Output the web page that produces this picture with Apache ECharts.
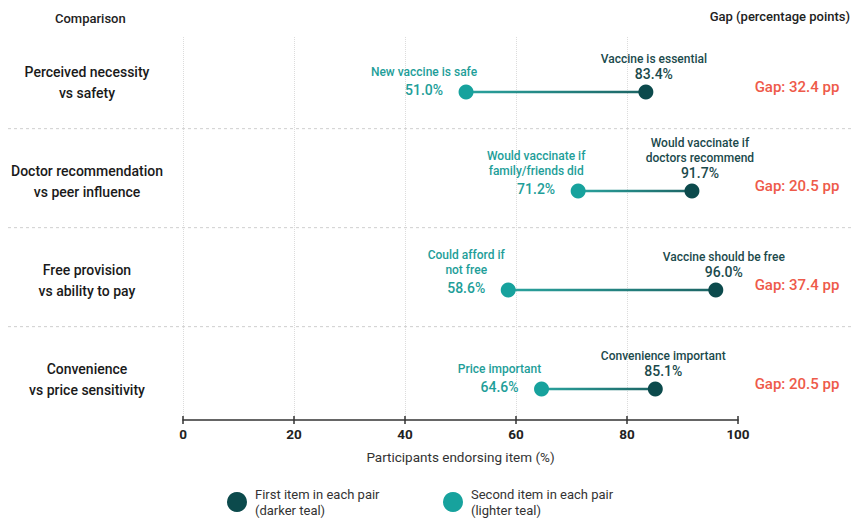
<!DOCTYPE html>
<html><head><meta charset="utf-8">
<script src="https://cdn.jsdelivr.net/npm/echarts@6/dist/echarts.min.js"></script>
<style>html,body{margin:0;padding:0;background:#fff}#c{width:858px;height:518px}</style>
</head><body><div id="c"></div>
<script>
const comparisons = ['Perceived necessity\nvs safety', 'Doctor recommendation\nvs peer influence', 'Free provision\nvs ability to pay', 'Convenience\nvs price sensitivity'];
const firstItems = ['Vaccine is essential', 'Would vaccinate if\ndoctors recommend', 'Vaccine should be free', 'Convenience important'];
const secondItems = ['New vaccine is safe', 'Would vaccinate if\nfamily/friends did', 'Could afford if\nnot free', 'Price important'];
const firstValues = [83.4, 91.7, 96.0, 85.1];
const secondValues = [51.0, 71.2, 58.6, 64.6];
const xTicks = [0, 20, 40, 60, 80, 100];

const FONT = 'Roboto, "Noto Sans", sans-serif';
const DARK = '#0c4a4c';
const LIGHT = '#17a29d';
const DARK_TXT = '#1b4a4c';
const LIGHT_TXT = '#1e9e99';
const GAP = '#ee5a4a';

const chart = echarts.init(document.getElementById('c'), null, {renderer: 'svg'});

const rows = comparisons.map((c, i) => [firstValues[i], secondValues[i], i]);

function renderRow(params, api) {
  const i = api.value(2);
  const p1 = api.coord([api.value(0), i]);
  const p2 = api.coord([api.value(1), i]);
  const sep = api.coord([0, i + 0.37]);
  const children = [];
  children.push({
    type: 'line', z2: 1,
    shape: {x1: p2[0], y1: p2[1], x2: p1[0], y2: p1[1]},
    style: {lineWidth: 2.5, stroke: new echarts.graphic.LinearGradient(p2[0], 0, p1[0], 0, [
      {offset: 0, color: '#2aa39e'}, {offset: 1, color: '#1d6464'}], true)}
  });
  children.push({type: 'text', style: {text: secondItems[i], x: p2[0] - 42, y: p2[1] - 13,
    align: 'center', verticalAlign: 'bottom', fill: LIGHT_TXT, fontSize: 12, fontWeight: 500, lineHeight: 15, fontFamily: FONT}});
  children.push({type: 'text', style: {text: api.value(1).toFixed(1) + '%', x: p2[0] - 42, y: p2[1] - 2,
    align: 'center', verticalAlign: 'middle', fill: LIGHT_TXT, fontSize: 14, fontWeight: 500, fontFamily: FONT}});
  children.push({type: 'text', style: {text: firstItems[i], x: p1[0] + 8, y: p1[1] - 26,
    align: 'center', verticalAlign: 'bottom', fill: DARK_TXT, fontSize: 12, fontWeight: 500, lineHeight: 15, fontFamily: FONT}});
  children.push({type: 'text', style: {text: api.value(0).toFixed(1) + '%', x: p1[0] + 8, y: p1[1] - 18,
    align: 'center', verticalAlign: 'middle', fill: DARK_TXT, fontSize: 14, fontWeight: 500, fontFamily: FONT}});
  children.push({type: 'text', style: {text: 'Gap: ' + (api.value(0) - api.value(1)).toFixed(1) + ' pp', x: 797, y: p1[1] - 5,
    align: 'center', verticalAlign: 'middle', fill: GAP, fontSize: 15, fontWeight: 500, fontFamily: FONT}});
  children.push({type: 'text', style: {text: comparisons[i], x: 87, y: p1[1] - 10,
    align: 'center', verticalAlign: 'middle', fill: '#1a1a1a', fontSize: 14, fontWeight: 500, lineHeight: 21, fontFamily: FONT}});
  if (i < comparisons.length - 1) {
    children.push({type: 'line', shape: {x1: 8, y1: sep[1], x2: 852, y2: sep[1]},
      style: {stroke: '#cfcfcf', lineWidth: 1, lineDash: [3, 3]}});
  }
  return {type: 'group', children};
}

const option = {
  backgroundColor: '#fff',
  textStyle: {fontFamily: FONT},
  grid: {left: 183, right: 120, top: 37, bottom: 98},
  xAxis: [{
    type: 'value', min: xTicks[0], max: xTicks[xTicks.length - 1], interval: 20, position: 'bottom',
    axisLine: {show: true, onZero: false, lineStyle: {color: '#333', width: 1.5}},
    axisTick: {show: true, length: 4, lineStyle: {color: '#333', width: 1.5}},
    axisLabel: {fontSize: 13.5, color: '#222', fontWeight: 'bold', margin: 7, fontFamily: FONT},
    splitLine: {show: true, lineStyle: {color: ['#dcdcdc', '#dcdcdc', '#dcdcdc', '#dcdcdc', '#dcdcdc', 'rgba(0,0,0,0)'], type: 'dotted', width: 1}},
    name: 'Participants endorsing item (%)', nameLocation: 'middle', nameGap: 30,
    nameTextStyle: {fontSize: 13.5, color: '#333', fontFamily: FONT}
  }, {
    type: 'value', min: xTicks[0], max: xTicks[xTicks.length - 1], interval: 20, position: 'bottom',
    axisLine: {show: false, onZero: false}, axisTick: {show: true, inside: true, length: 4, lineStyle: {color: '#333', width: 1.5}},
    axisLabel: {show: false}, splitLine: {show: false}
  }],
  yAxis: {type: 'value', inverse: true, min: -0.556, max: 3.313, show: false},
  legend: [{
    data: ['First item in each pair'], left: 222, top: 481, icon: 'circle', itemWidth: 20, itemHeight: 20,
    selectedMode: false,
    textStyle: {fontSize: 13, color: '#333', lineHeight: 16, fontFamily: FONT, padding: [0, 0, 0, 3]},
    formatter: n => n + '\n(darker teal)'
  }, {
    data: ['Second item in each pair'], left: 438, top: 481, icon: 'circle', itemWidth: 20, itemHeight: 20,
    selectedMode: false,
    textStyle: {fontSize: 13, color: '#333', lineHeight: 16, fontFamily: FONT, padding: [0, 0, 0, 3]},
    formatter: n => n + '\n(lighter teal)'
  }],
  graphic: [
    {type: 'text', left: 55, top: 12, style: {text: 'Comparison', fill: '#222', fontSize: 13, fontWeight: 500, fontFamily: FONT}},
    {type: 'text', right: 8, top: 10, style: {text: 'Gap (percentage points)', fill: '#222', fontSize: 13, fontWeight: 500, fontFamily: FONT}}
  ],
  series: [
    {type: 'custom', name: 'rows', renderItem: renderRow, data: rows, encode: {x: [0, 1], y: 2}, z: 2, silent: true},
    {type: 'scatter', name: 'First item in each pair', data: firstValues.map((v, i) => [v, i]),
      symbolSize: 15, itemStyle: {color: DARK, opacity: 1}, z: 3, silent: true},
    {type: 'scatter', name: 'Second item in each pair', data: secondValues.map((v, i) => [v, i]),
      symbolSize: 15, itemStyle: {color: LIGHT, opacity: 1}, z: 3, silent: true}
  ]
};
chart.setOption(option);
</script></body></html>
